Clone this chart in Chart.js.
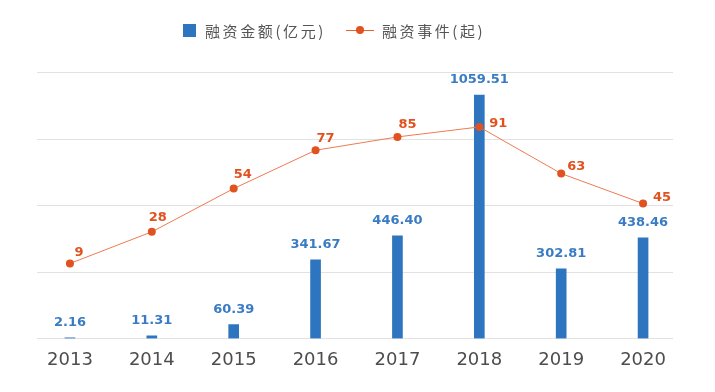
<!DOCTYPE html>
<html>
<head>
<meta charset="utf-8">
<script src="https://cdn.jsdelivr.net/npm/chart.js@4/dist/chart.umd.min.js"></script>
<style>
  html, body { margin: 0; padding: 0; background: #fff; }
  #wrap { position: relative; width: 715px; height: 392px; }
  #legend {
    position: absolute; left: 183px; top: 19px; height: 22px;
    display: flex; align-items: center;
    font-family: "Noto Sans CJK SC", sans-serif; font-size: 15px;
    letter-spacing: 2.6px; color: #555555;
  }
  .box { width: 13px; height: 13px; background: #2e75c0; margin-right: 9px; }
  .ln { position: relative; width: 28px; height: 1px; background: #e8602f; margin: 0 8px 0 20px; }
  .ln::after { content: ""; position: absolute; left: 10px; top: -3.5px; width: 8px; height: 8px; border-radius: 50%; background: #e0521f; }
</style>
</head>
<body>
<div id="wrap">
  <div id="legend">
    <span class="box"></span><span>融资金额(亿元)</span>
    <span class="ln"></span><span>融资事件(起)</span>
  </div>
  <canvas id="chart" width="715" height="392"></canvas>
</div>
<script>
const years = ["2013", "2014", "2015", "2016", "2017", "2018", "2019", "2020"]
const amounts = [2.16, 11.31, 60.39, 341.67, 446.40, 1059.51, 302.81, 438.46]
const events = [9, 28, 54, 77, 85, 91, 63, 45]

// label nudges for the event numbers (px, relative to the point)
const eventLabelShift = [[9, -11], [6, -14], [9, -14], [10, -12], [10, -12], [19, -3], [15, -7], [19, -6]]

const blue = "#2e75c0"
const orange = "#e0521f"

const gridPlugin = {
  id: "insetGrid",
  beforeDatasetsDraw(chart) {
    const { ctx, chartArea, scales } = chart
    ctx.save()
    ctx.strokeStyle = "#e2e2e2"
    ctx.lineWidth = 1
    scales.y.ticks.forEach(t => {
      const y = Math.round(scales.y.getPixelForValue(t.value)) + 0.5
      ctx.beginPath()
      ctx.moveTo(chartArea.left + 8, y)
      ctx.lineTo(chartArea.right - 11, y)
      ctx.stroke()
    })
    ctx.restore()
  }
}

const labelPlugin = {
  id: "valueLabels",
  afterDatasetsDraw(chart) {
    const ctx = chart.ctx
    ctx.save()
    ctx.font = "bold 13px 'DejaVu Sans'"
    ctx.textAlign = "center"
    ctx.textBaseline = "middle"
    chart.getDatasetMeta(0).data.forEach((bar, i) => {
      ctx.fillStyle = "#3a7cc4"
      ctx.fillText(amounts[i].toFixed(2), bar.x, bar.y - 15)
    })
    chart.getDatasetMeta(1).data.forEach((pt, i) => {
      ctx.fillStyle = "#e0521f"
      ctx.fillText(String(events[i]), pt.x + eventLabelShift[i][0], pt.y + eventLabelShift[i][1])
    })
    ctx.restore()
  }
}

new Chart(document.getElementById("chart"), {
  type: "bar",
  data: {
    labels: years,
    datasets: [
      {
        label: "融资金额(亿元)",
        data: amounts,
        backgroundColor: blue,
        barThickness: 10,
        yAxisID: "y",
        order: 1
      },
      {
        type: "line",
        label: "融资事件(起)",
        data: events,
        borderColor: "#ee7a52",
        borderWidth: 1,
        pointRadius: 4,
        pointBackgroundColor: orange,
        pointBorderWidth: 0,
        yAxisID: "y1",
        order: 0
      }
    ]
  },
  options: {
    responsive: false,
    animation: false,
    layout: { padding: { left: 29, right: 31, top: 72, bottom: 18 } },
    plugins: {
      legend: { display: false },
      tooltip: { enabled: false }
    },
    scales: {
      x: {
        grid: { display: false },
        border: { display: false },
        ticks: {
          color: "#4d4d4d",
          padding: 3,
          font: { family: "DejaVu Sans", size: 18 }
        }
      },
      y: {
        min: 0,
        max: 1160,
        ticks: { display: false, stepSize: 290 },
        grid: { display: false },
        border: { display: false },
        afterFit: s => { s.width = 0 }
      },
      y1: {
        display: false,
        min: -36,
        max: 124
      }
    }
  },
  plugins: [gridPlugin, labelPlugin]
})
</script>
</body>
</html>
